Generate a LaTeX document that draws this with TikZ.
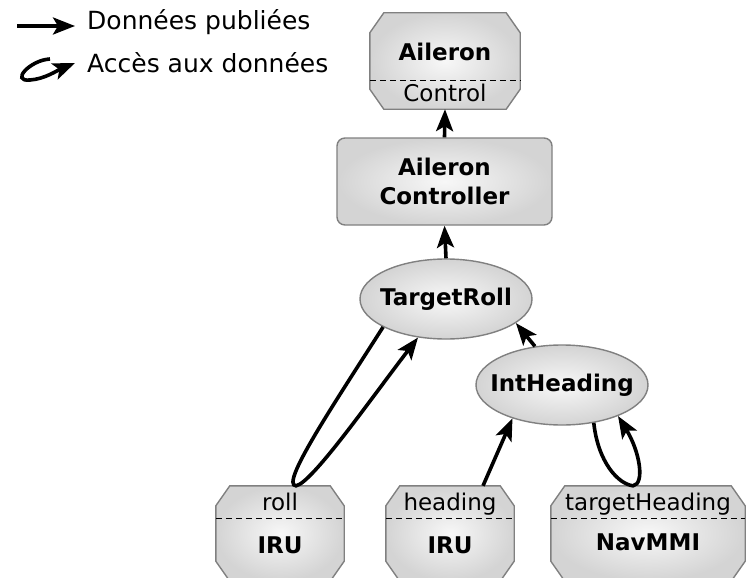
\documentclass[tikz,border=0pt]{standalone}
\usepackage{fontspec}
\setmainfont{DejaVu Sans}
\usetikzlibrary{positioning}
\usetikzlibrary{calc}
\usetikzlibrary{arrows.meta,shapes}

\begin{document}
\begin{tikzpicture}[x=1pt,y=-1pt,
  box/.style={draw=black!50, line width=1.4pt, shading=radial, inner color=black!3, outer color=black!17},
  databox/.style={rectangle, inner sep=0pt},
  compbox/.style={box, rectangle, rounded corners=8pt, align=center, inner sep=0pt, font=\bfseries\fontsize{23}{29}\selectfont},
  varbox/.style={box, ellipse, inner xsep=-20pt, minimum width=172pt, minimum height=80pt, font=\bfseries\fontsize{23}{29}\selectfont},
  bold/.style={anchor=base, inner sep=0pt, font=\bfseries\fontsize{23}{29}\selectfont},
  plain/.style={anchor=base, inner sep=0pt, font=\fontsize{23}{29}\selectfont},
  legend/.style={anchor=base west, inner sep=0pt, font=\fontsize{25}{30}\selectfont},
  sep/.style={dash pattern=on 6pt off 4pt, line width=0.9pt},
  pub/.style={line width=3.6pt, -{Stealth[length=22pt,width=17pt,inset=5pt]}}]

\clip (0,0) rectangle (747,578);

% legend
\node[legend](pubtext) at (87,30){Données publiées};
\node[legend](acctext) at (87,73){Accès aux données};
\coordinate (pubstart) at (17,26);
\coordinate (pubend) at (75,26);
\coordinate (accstart) at (50,59);
\coordinate (accend) at (75,63);

% frames
\node[databox, minimum width=150pt, minimum height=96pt](ctrl) at (445,61){};
\node[databox, minimum width=128pt, minimum height=95pt](rolliru) at (280,533.5){};
\node[databox, minimum width=128pt, minimum height=95pt](headiru) at (450,533.5){};
\node[databox, minimum width=194pt, minimum height=95pt](navmmi) at (648,533.5){};
\foreach \n in {ctrl,rolliru,headiru,navmmi}
  \draw[box] ($(\n.north west)+(14,0)$) -- ($(\n.north east)+(-14,0)$)
    -- ($(\n.north east)+(0,20)$) -- ($(\n.south east)+(0,-20)$)
    -- ($(\n.south east)+(-14,0)$) -- ($(\n.south west)+(14,0)$)
    -- ($(\n.south west)+(0,-20)$) -- ($(\n.north west)+(0,20)$) -- cycle;

% aileron
\node[bold](ctrlname) at (445,61){Aileron};
\node[plain](ctrlval) at (445,101){Control};
\draw[sep](ctrl.west |- 0,80)--(ctrl.east |- 0,80);

\node[compbox, minimum width=215pt, minimum height=87pt](controller) at (444.5,181.5){Aileron\\Controller};

\node[varbox](troll) at (446,299){TargetRoll};
\node[varbox](inthead) at (562,385){IntHeading};

% sources
\node[plain](rollval) at (280,510){roll};
\node[bold](rollname) at (280,553){IRU};
\draw[sep](rolliru.west |- 0,518)--(rolliru.east |- 0,518);

\node[plain](headval) at (450,510){heading};
\node[bold](headname) at (450,553){IRU};
\draw[sep](headiru.west |- 0,518)--(headiru.east |- 0,518);

\node[plain](navval) at (648,510){targetHeading};
\node[bold](navname) at (648,550){NavMMI};
\draw[sep](navmmi.west |- 0,518)--(navmmi.east |- 0,518);

\draw[pub](pubstart)--(pubend);
\draw[pub](accstart) .. controls (30,60) and (10,82) .. (30,80) .. controls (45,79) and (58,70) .. (accend);

\draw[pub](controller.north)--(ctrl.south);
\draw[pub](troll.north)--(controller.south);
\draw[pub](inthead.125)--(troll.-19);
\draw[pub]([xshift=33pt]headiru.north)--(inthead.214);

\draw[pub](troll.204) .. controls (330,410) and (280,485) .. ([xshift=16pt]rolliru.north)
  .. controls (312,483) and (370,400) .. (troll.234);
\draw[pub](inthead.310) .. controls (598,462) and (618,484) .. ([xshift=-15pt]navmmi.north)
  .. controls (645,484) and (640,452) .. (inthead.331);
\end{tikzpicture}
\end{document}
